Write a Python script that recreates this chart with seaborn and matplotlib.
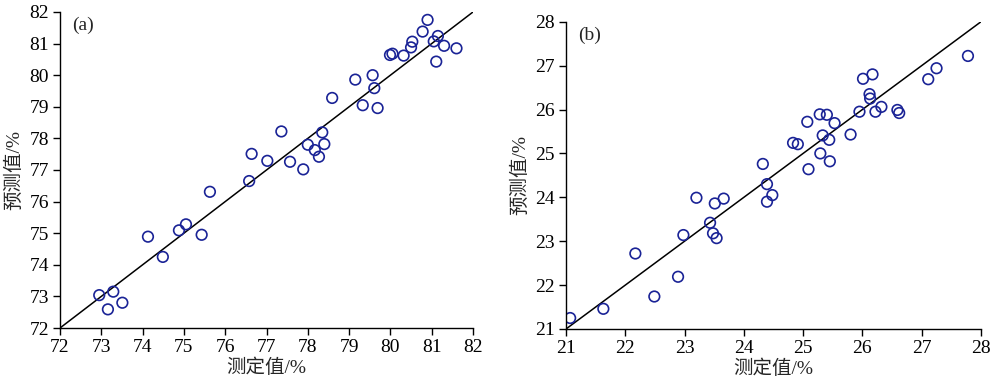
import matplotlib
matplotlib.use("Agg")
import matplotlib.pyplot as plt
import seaborn as sns
import pandas as pd

# (a) measured vs predicted
a_measured = [72.95, 73.16, 73.29, 73.51, 74.13, 74.49, 74.88, 75.05, 75.43, 75.63,
              76.58, 76.64, 77.02, 77.57, 77.89, 77.36, 78.00, 78.17, 78.27, 78.40,
              78.35, 78.59, 79.15, 79.33, 79.57, 79.61, 79.69, 79.99, 80.05, 80.32,
              80.50, 80.53, 80.78, 80.90, 81.05, 81.15, 81.11, 81.30, 81.60]
a_predicted = [73.04, 72.59, 73.15, 72.80, 74.89, 74.25, 75.09, 75.28, 74.95, 76.31,
               76.65, 77.51, 77.29, 77.26, 77.02, 78.22, 77.80, 77.63, 77.42, 77.82,
               78.19, 79.28, 79.86, 79.05, 80.00, 79.59, 78.96, 80.64, 80.68, 80.62,
               80.88, 81.06, 81.38, 81.75, 81.07, 81.24, 80.43, 80.93, 80.85]

# (b) measured vs predicted
b_measured = [21.07, 21.63, 22.17, 22.49, 22.89, 22.98, 23.20, 23.43, 23.48, 23.54,
              23.51, 23.66, 24.39, 24.39, 24.48, 24.32, 25.09, 24.83, 24.91, 25.07,
              25.29, 25.45, 25.28, 25.40, 25.53, 25.33, 25.44, 25.80, 25.95, 26.01,
              26.17, 26.12, 26.13, 26.22, 26.32, 26.59, 26.62, 27.11, 27.25, 27.78]
b_predicted = [21.25, 21.46, 22.72, 21.74, 22.19, 23.14, 23.99, 23.42, 23.18, 23.07,
               23.86, 23.97, 24.30, 23.90, 24.05, 24.76, 24.64, 25.24, 25.21, 25.72,
               25.00, 24.82, 25.89, 25.88, 25.69, 25.41, 25.31, 25.43, 25.95, 26.70,
               26.80, 26.35, 26.25, 25.95, 26.06, 25.99, 25.92, 26.69, 26.94, 27.22]

a_ticks = list(range(72, 83))
b_ticks = list(range(21, 29))

sns.set_theme(style="ticks")
plt.rcParams["font.family"] = ["Liberation Serif", "Noto Sans CJK SC"]
plt.rcParams["axes.unicode_minus"] = False

fig = plt.figure(figsize=(10, 3.83), dpi=100)
ax1 = fig.add_axes([0.060, 0.1436, 0.413, 0.8251])
ax2 = fig.add_axes([0.566, 0.1410, 0.415, 0.8023])

panels = [
    (ax1, a_measured, a_predicted, a_ticks, "(a)"),
    (ax2, b_measured, b_predicted, b_ticks, "(b)"),
]

for ax, xs, ys, ticks, tag in panels:
    df = pd.DataFrame({"x": xs, "y": ys})
    lo, hi = ticks[0], ticks[-1]
    # 1:1 reference line
    ax.plot([lo, hi], [lo, hi], color="black", lw=1.1, zorder=1)
    sns.scatterplot(data=df, x="x", y="y", ax=ax, marker="o", s=58,
                    facecolor="none", edgecolor="#1a2396", linewidth=1.2, zorder=2)
    ax.set_xlim(lo, hi)
    ax.set_ylim(lo, hi)
    ax.set_xticks(ticks)
    ax.set_yticks(ticks)
    ax.tick_params(direction="out", length=5, width=1, labelsize=14, colors="black",
                   pad=3)
    for s in ["top", "right"]:
        ax.spines[s].set_visible(False)
    for s in ["left", "bottom"]:
        ax.spines[s].set_color("black")
        ax.spines[s].set_linewidth(1.0)
    ax.set_xlabel("测定值/%", fontsize=14, labelpad=2)
    ax.set_ylabel("预测值/%", fontsize=14, labelpad=4)
    ax.text(0.03, 0.957, tag, transform=ax.transAxes, fontsize=14,
            ha="left", va="center")

fig.savefig("out.png", dpi=100)
